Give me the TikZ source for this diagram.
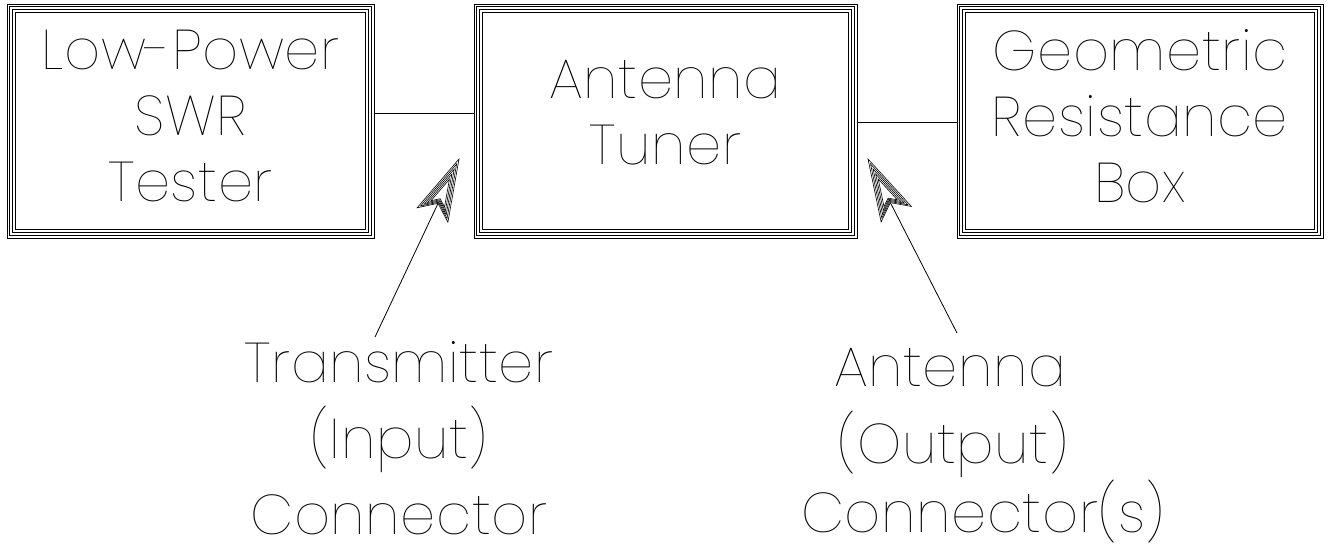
\documentclass[tikz,border=0pt]{standalone}
\usepackage{fontspec}
\usetikzlibrary{calc}
% thin single-stroke look for all labels
\IfFontExistsTF{Poppins Thin}{\newfontfamily\strokefont{Poppins Thin}[LetterSpace=1]}{%
 \IfFontExistsTF{Fira Sans Thin}{\newfontfamily\strokefont{Fira Sans Thin}[LetterSpace=4]}{%
  \IfFontExistsTF{Lato Hairline}{\newfontfamily\strokefont{Lato Hairline}[LetterSpace=4]}{%
   \newfontfamily\strokefont{DejaVu Sans}[LetterSpace=0]}}}
\begin{document}
\begin{tikzpicture}[x=1pt,y=-1pt,line width=0.9pt,
  unit/.style={draw,minimum height=234pt,inner sep=0pt},
  unittext/.style={inner sep=0pt,align=center,
    font=\strokefont\fontsize{56}{66}\selectfont},
  label/.style={inner sep=0pt,align=center,
    font=\strokefont\fontsize{56}{76}\selectfont},
  dart/.pic={
    \foreach \s in {1,0.86,0.72,0.58,0.44}
      \draw[line width=0.6pt,shift={(-40,0)},scale=\s,shift={(40,0)}]
        (0,0) -- (-62,17) -- (-49,0) -- (-62,-17) -- cycle;
  }]
\useasboundingbox (0,0) rectangle (1328,545);

% the three units
\node[unit,minimum width=367pt] (swr)  at (190.5,121) {};
\node[unit,minimum width=383pt] (tune) at (665.5,121) {};
\node[unit,minimum width=366pt] (box)  at (1140,121)  {};

\node[unittext] (swrtxt)  at ([yshift=5pt]swr.center)  {Low-Power\\SWR\\Tester};
\node[unittext] (tunetxt) at ([yshift=8pt]tune.center) {Antenna\\Tuner};
\node[unittext] (boxtxt)  at ([yshift=5pt]box.center)  {Geometric\\Resistance\\Box};

% nested frame lines inside each unit
\foreach \n in {swr,tune,box}
  \foreach \d in {2.8,5.6,8.8}
    \draw ([shift={(\d pt,\d pt)}]\n.south west) rectangle ([shift={(-\d pt,-\d pt)}]\n.north east);

% cables between the units
\draw ([yshift=8pt]swr.east) -- ([yshift=8pt]tune.west);
\draw ([yshift=-1pt]tune.east) -- ([yshift=-1pt]box.west);

% connector callouts
\node[label] (inlbl) at (399,438) {Transmitter\\(Input)\\Connector};
\node (out1) [label,anchor=base] at (950,386) {Antenna};
\node (out2) [label,anchor=base] at (953,463) {(Output)};
\node (out3) [label,anchor=base] at (983,532) {Connector(s)};

\coordinate (intail) at (375,337);
\coordinate (intip) at (459,159);
\coordinate (outtail) at (957,333);
\coordinate (outtip) at (868,159);

\draw[line width=0.8pt] (intail) -- ($(intip)!49pt!(intail)$);
\draw[line width=0.8pt] (outtail) -- ($(outtip)!49pt!(outtail)$);
\pic[rotate=64.7] at (intip) {dart};
\pic[rotate=117.1] at (outtip) {dart};
\end{tikzpicture}
\end{document}
